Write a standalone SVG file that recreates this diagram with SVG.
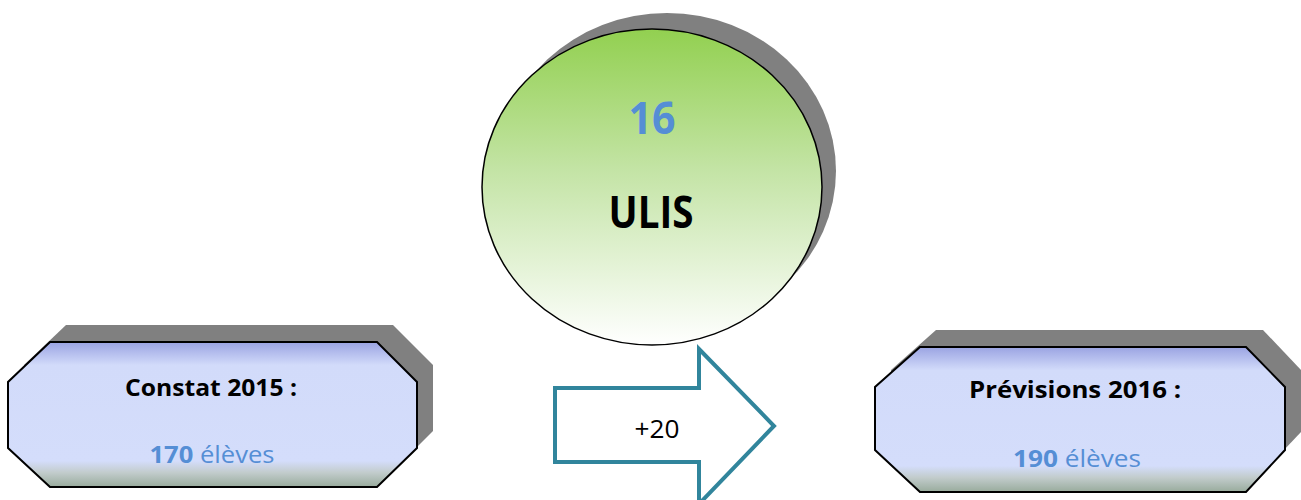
<svg xmlns="http://www.w3.org/2000/svg" width="1301" height="500" viewBox="0 0 1301 500">
<defs>
<linearGradient id="gCircle" x1="0" y1="0" x2="0" y2="1">
<stop offset="0" stop-color="#92d050"/>
<stop offset="0.45" stop-color="#c4e4a6"/>
<stop offset="1" stop-color="#ffffff"/>
</linearGradient>
<linearGradient id="gOct" x1="0" y1="0" x2="0" y2="1">
<stop offset="0" stop-color="#9aa3e2"/>
<stop offset="0.16" stop-color="#d2dbfa"/>
<stop offset="0.82" stop-color="#d4ddfb"/>
<stop offset="0.9" stop-color="#c2cccc"/>
<stop offset="1" stop-color="#98ab9c"/>
</linearGradient>
<style>
.shadow{fill:#808080;}
.oct{fill:url(#gOct);stroke:#000;stroke-width:2;}
.t{font-family:"Open Sans","Liberation Sans",sans-serif;text-anchor:middle;}
.b{font-weight:bold;}
.blue{fill:#558ed5;}
</style>
</defs>
<rect width="1301" height="500" fill="#fff"/>
<g id="ulis">
<ellipse class="shadow" cx="667" cy="171" rx="169" ry="158"/>
<ellipse cx="652" cy="187" rx="170" ry="158" fill="url(#gCircle)" stroke="#000" stroke-width="1.5"/>
<text class="t b blue" x="652" y="134" font-size="44" textLength="47" lengthAdjust="spacingAndGlyphs">16</text>
<text class="t b" x="651" y="228" font-size="44" fill="#000" textLength="85" lengthAdjust="spacingAndGlyphs">ULIS</text>
</g>
<g id="constat">
<polygon class="shadow" points="66,325 393,325 433,365 433,431 393,471 66,471 24,431 24,365"/>
<polygon class="oct" points="50,342 377,342 417,382 417,448 377,487 50,487 8,448 8,382"/>
<text class="t b" x="211" y="396" font-size="24" fill="#000" textLength="172" lengthAdjust="spacingAndGlyphs">Constat 2015 :</text>
<text class="t blue" x="212" y="463" font-size="23" textLength="125" lengthAdjust="spacingAndGlyphs"><tspan font-weight="bold">170</tspan> élèves</text>
</g>
<g id="previsions">
<polygon class="shadow" points="936,330 1263,330 1301,370 1301,432 1263,472 936,472 891,432 891,370"/>
<polygon class="oct" points="920,347 1246,347 1285,387 1285,450 1246,492 920,492 875,450 875,387"/>
<text class="t b" x="1075" y="398" font-size="24" fill="#000" textLength="212" lengthAdjust="spacingAndGlyphs">Prévisions 2016 :</text>
<text class="t blue" x="1077" y="467" font-size="23" textLength="128" lengthAdjust="spacingAndGlyphs"><tspan font-weight="bold">190</tspan> élèves</text>
</g>
<g id="connectors">
<polygon points="555,388 699,388 699,349 774,426 699,504 699,462 555,462" fill="#fff" stroke="#31859c" stroke-width="4"/>
<text class="t" x="657" y="438" font-size="25" fill="#000" textLength="45" lengthAdjust="spacingAndGlyphs">+20</text>
</g>
</svg>
